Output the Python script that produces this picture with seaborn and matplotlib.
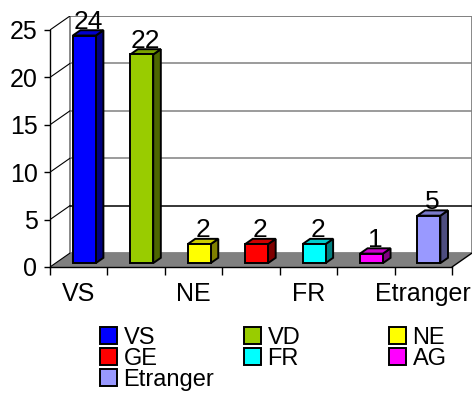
"""
Pseudo-3D Excel-style column chart of counts by origin (VS, VD, NE, ...).
Front faces are drawn by seaborn; side / top faces and walls are derived
from the bar patches and the axes limits.
"""
import numpy as np
import matplotlib.pyplot as plt
import matplotlib as mpl
from matplotlib.patches import Polygon, Patch
import seaborn as sns

# ----------------------------------------------------------------------
# Data
# ----------------------------------------------------------------------
CATS   = ["VS", "VD", "NE", "GE", "FR", "AG", "Etranger"]
VALUES = [24, 22, 2, 2, 2, 1, 5]
COLORS = ["#0000FF", "#99CC00", "#FFFF00", "#FF0000",
          "#00FFFF", "#FF00FF", "#9999FF"]
XLABELS = {0: "VS", 2: "NE", 4: "FR", 6: "Etranger"}
YTICKS  = [0, 5, 10, 15, 20, 25]

# 3-D look: offset of the back wall in data units, bar depth slots
DX, DY   = 0.348, 1.47
D0, D1   = 0.28, 0.66
BAR_W    = 0.40
FONT     = "Liberation Sans"

sns.set_style("white")
mpl.rcParams["font.family"] = [FONT, "DejaVu Sans"]
mpl.rcParams.update({
    "text.color": "black",
    "xtick.color": "black",
    "ytick.color": "black",
    "xtick.labelcolor": "black",
    "ytick.labelcolor": "black",
})

fig = plt.figure(figsize=(4.74, 3.94), dpi=100)
fig.patch.set_facecolor("white")
ax = fig.add_axes([50 / 474, 127 / 394, 422 / 474, 251 / 394])
ax.set_facecolor("none")

n = len(CATS)
x_lo, x_hi = -0.5, n - 0.5
ymax = YTICKS[-1]

# ----------------------------------------------------------------------
# Walls and floor
# ----------------------------------------------------------------------
back = Polygon([(x_lo + DX, DY), (x_hi + DX, DY),
                (x_hi + DX, ymax + DY), (x_lo + DX, ymax + DY)],
               closed=True, facecolor="white", edgecolor="#808080",
               linewidth=1.3, zorder=0)
ax.add_patch(back)
floor = Polygon([(x_lo, 0), (x_hi, 0), (x_hi + DX, DY), (x_lo + DX, DY)],
                closed=True, facecolor="#808080", edgecolor="none", zorder=1)
ax.add_patch(floor)
ax.plot([x_hi, x_hi + DX], [0, DY], color="black", lw=1.0, zorder=1.5)

for v in YTICKS[1:]:
    col = "black" if v == 5 else "#808080"
    ax.plot([x_lo + DX, x_hi + DX], [v + DY, v + DY], color=col,
            lw=1.1, zorder=0.5)
for v in YTICKS:
    ax.plot([x_lo, x_lo + DX], [v, v + DY], color="black", lw=0.8,
            zorder=1.5)

# ----------------------------------------------------------------------
# Bars (front faces) via seaborn, then shift into depth slot
# ----------------------------------------------------------------------
sns.barplot(x=CATS, y=VALUES, hue=CATS, palette=COLORS, width=BAR_W,
            saturation=1, edgecolor="black", linewidth=1.4, legend=False,
            ax=ax, zorder=3, order=CATS, hue_order=CATS)

ddx, ddy = (D1 - D0) * DX, (D1 - D0) * DY
bars = [p for p in ax.patches if not isinstance(p, Polygon)]
for p, c, v in zip(bars, COLORS, VALUES):
    p.set_x(p.get_x() + D0 * DX)
    p.set_y(D0 * DY)
    x0, x1 = p.get_x(), p.get_x() + p.get_width()
    yb, yt = p.get_y(), p.get_y() + p.get_height()
    rgb = np.array(mpl.colors.to_rgb(c))
    side = Polygon([(x1, yb), (x1 + ddx, yb + ddy),
                    (x1 + ddx, yt + ddy), (x1, yt)], closed=True,
                   facecolor=rgb * 0.5, edgecolor="black", lw=1.4,
                   zorder=2.9)
    top = Polygon([(x0, yt), (x1, yt), (x1 + ddx, yt + ddy),
                   (x0 + ddx, yt + ddy)], closed=True,
                  facecolor=rgb * 0.8, edgecolor="black", lw=1.4,
                  zorder=2.9)
    ax.add_patch(side)
    ax.add_patch(top)
    ax.text((x0 + x1 + ddx) / 2, yt + ddy + 0.15, str(v), ha="center",
            va="baseline", fontsize=19, zorder=4)

# ----------------------------------------------------------------------
# Axes, ticks
# ----------------------------------------------------------------------
ax.set_xlim(x_lo, x_hi + DX)
ax.set_ylim(0, ymax + DY)
for s in ["top", "right"]:
    ax.spines[s].set_visible(False)
ax.spines["left"].set_bounds(0, ymax)
ax.spines["bottom"].set_bounds(x_lo, x_hi)
for s in ["left", "bottom"]:
    ax.spines[s].set_color("black")
    ax.spines[s].set_linewidth(1.0)
    ax.spines[s].set_zorder(2)

ax.set_yticks(YTICKS)
ax.set_yticklabels([str(t) for t in YTICKS], fontsize=18)
ax.tick_params(axis="y", direction="out", length=4, width=1.0, pad=5,
               left=True)
ax.set_xticks(np.arange(x_lo, x_hi + 0.01, 1.0))
ax.set_xticklabels([])
ax.set_xticks(list(XLABELS.keys()), minor=True)
ax.set_xticklabels(list(XLABELS.values()), minor=True, fontsize=18)
ax.tick_params(axis="x", which="major", direction="out", length=6,
               width=1.0, bottom=True)
ax.tick_params(axis="x", which="minor", length=0, pad=11)
ax.set_xlabel("")
ax.set_ylabel("")

# ----------------------------------------------------------------------
# Legend: three columns with fixed left edges (Excel style)
# ----------------------------------------------------------------------
handles = [Patch(facecolor=c, edgecolor="black", linewidth=1.4, label=l)
           for c, l in zip(COLORS, CATS)]
columns = [[0, 3, 6], [1, 4], [2, 5]]
col_x   = [100 / 474, 244 / 474, 389 / 474]
for idx, cx in zip(columns, col_x):
    fig.legend(handles=[handles[i] for i in idx], loc="upper left",
               bbox_to_anchor=(cx, 1 - 327 / 394), frameon=False,
               fontsize=17, handlelength=0.7, handleheight=0.72,
               handletextpad=0.3, labelspacing=-0.05, borderpad=0,
               borderaxespad=0)

fig.savefig("out.png", dpi=100, facecolor="white")
